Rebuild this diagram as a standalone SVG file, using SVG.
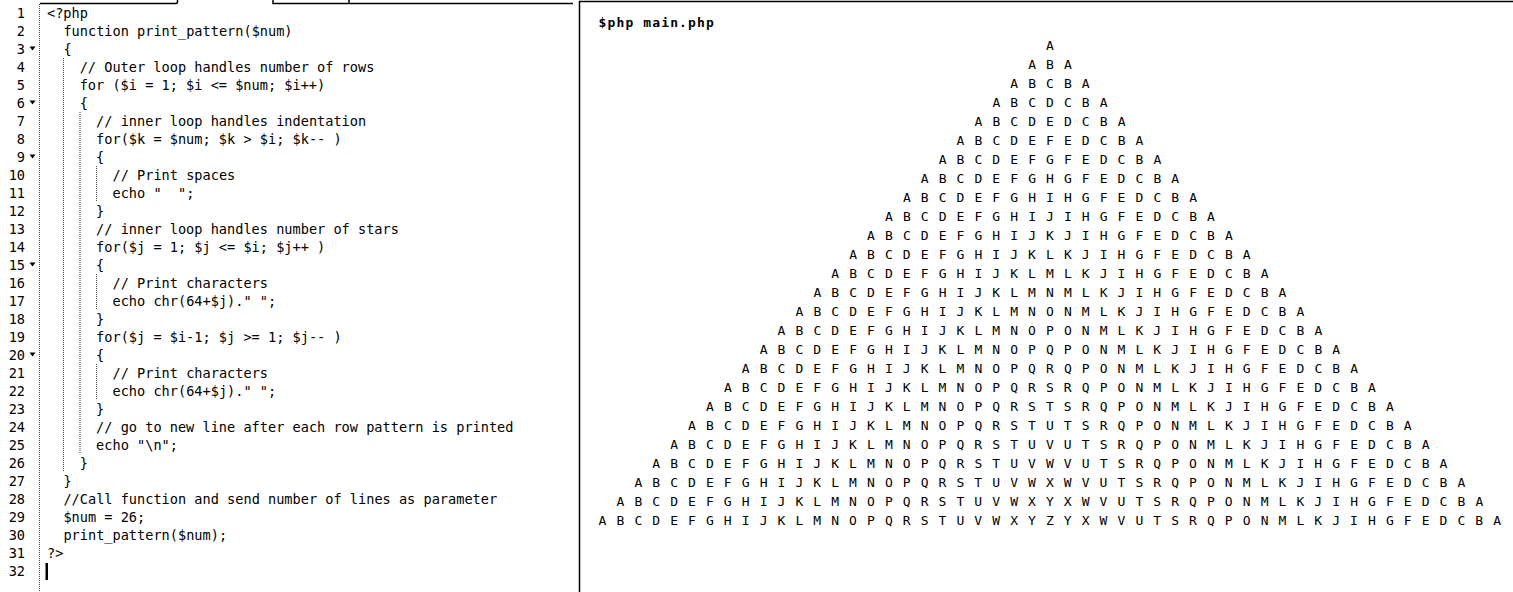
<svg xmlns="http://www.w3.org/2000/svg" width="1513" height="592" viewBox="0 0 1513 592">
<style>
.code{font-family:"DejaVu Sans Mono","Liberation Mono",monospace;font-size:13.6px;fill:#000;white-space:pre}
.ln{font-family:"DejaVu Sans Mono","Liberation Mono",monospace;font-size:13.6px;fill:#000;text-anchor:end}
.out{font-family:"DejaVu Sans Mono","Liberation Mono",monospace;font-size:13px;letter-spacing:1.12px;fill:#000}
.hdr{font-weight:bold}
.guide{stroke:#444;stroke-width:1;stroke-dasharray:1 1;fill:none}
.frame{stroke:#000;stroke-width:1.5;fill:none}
.fold{fill:#000}
</style>
<rect x="0" y="0" width="1513" height="592" fill="#fff"/>
<g id="frame">
<path class="frame" d="M40,3.5 H176 Q177.5,3.5 177.5,2 V0"/>
<path class="frame" d="M273,0 V3.5 H573"/>
<path class="frame" d="M349,0 V3.5"/>
<path class="frame" d="M579.5,592 V1.5 H1513"/>
</g>
<g id="gutter">
<line class="guide" x1="39.5" y1="4" x2="39.5" y2="592"/>
<text class="ln" x="25" y="17.5">1</text>
<text class="ln" x="25" y="35.5">2</text>
<text class="ln" x="25" y="53.5">3</text>
<text class="ln" x="25" y="71.5">4</text>
<text class="ln" x="25" y="89.5">5</text>
<text class="ln" x="25" y="107.5">6</text>
<text class="ln" x="25" y="125.5">7</text>
<text class="ln" x="25" y="143.5">8</text>
<text class="ln" x="25" y="161.5">9</text>
<text class="ln" x="25" y="179.5">10</text>
<text class="ln" x="25" y="197.5">11</text>
<text class="ln" x="25" y="215.5">12</text>
<text class="ln" x="25" y="233.5">13</text>
<text class="ln" x="25" y="251.5">14</text>
<text class="ln" x="25" y="269.5">15</text>
<text class="ln" x="25" y="287.5">16</text>
<text class="ln" x="25" y="305.5">17</text>
<text class="ln" x="25" y="323.5">18</text>
<text class="ln" x="25" y="341.5">19</text>
<text class="ln" x="25" y="359.5">20</text>
<text class="ln" x="25" y="377.5">21</text>
<text class="ln" x="25" y="395.5">22</text>
<text class="ln" x="25" y="413.5">23</text>
<text class="ln" x="25" y="431.5">24</text>
<text class="ln" x="25" y="449.5">25</text>
<text class="ln" x="25" y="467.5">26</text>
<text class="ln" x="25" y="485.5">27</text>
<text class="ln" x="25" y="503.5">28</text>
<text class="ln" x="25" y="521.5">29</text>
<text class="ln" x="25" y="539.5">30</text>
<text class="ln" x="25" y="557.5">31</text>
<text class="ln" x="25" y="575.5">32</text>
<polygon class="fold" points="29.5,46.5 35.5,46.5 32.5,50.5"/>
<polygon class="fold" points="29.5,100.5 35.5,100.5 32.5,104.5"/>
<polygon class="fold" points="29.5,154.5 35.5,154.5 32.5,158.5"/>
<polygon class="fold" points="29.5,262.5 35.5,262.5 32.5,266.5"/>
<polygon class="fold" points="29.5,352.5 35.5,352.5 32.5,356.5"/>
</g>
<g id="indent-guides">
<line class="guide" x1="63.5" y1="58" x2="63.5" y2="472"/>
<line class="guide" x1="80" y1="112" x2="80" y2="454"/>
<line class="guide" x1="96.5" y1="166" x2="96.5" y2="202"/>
<line class="guide" x1="96.5" y1="274" x2="96.5" y2="310"/>
<line class="guide" x1="96.5" y1="364" x2="96.5" y2="400"/>
</g>
<g id="code">
<text class="code" x="47" y="17.5">&lt;?php</text>
<text class="code" x="63.4" y="35.5">function print_pattern($num)</text>
<text class="code" x="63.4" y="53.5">{</text>
<text class="code" x="79.7" y="71.5">// Outer loop handles number of rows</text>
<text class="code" x="79.7" y="89.5">for ($i = 1; $i &lt;= $num; $i++)</text>
<text class="code" x="79.7" y="107.5">{</text>
<text class="code" x="96.1" y="125.5">// inner loop handles indentation</text>
<text class="code" x="96.1" y="143.5">for($k = $num; $k &gt; $i; $k-- )</text>
<text class="code" x="96.1" y="161.5">{</text>
<text class="code" x="112.5" y="179.5">// Print spaces</text>
<text class="code" x="112.5" y="197.5" xml:space="preserve">echo "  ";</text>
<text class="code" x="96.1" y="215.5">}</text>
<text class="code" x="96.1" y="233.5">// inner loop handles number of stars</text>
<text class="code" x="96.1" y="251.5">for($j = 1; $j &lt;= $i; $j++ )</text>
<text class="code" x="96.1" y="269.5">{</text>
<text class="code" x="112.5" y="287.5">// Print characters</text>
<text class="code" x="112.5" y="305.5">echo chr(64+$j)." ";</text>
<text class="code" x="96.1" y="323.5">}</text>
<text class="code" x="96.1" y="341.5">for($j = $i-1; $j &gt;= 1; $j-- )</text>
<text class="code" x="96.1" y="359.5">{</text>
<text class="code" x="112.5" y="377.5">// Print characters</text>
<text class="code" x="112.5" y="395.5">echo chr(64+$j)." ";</text>
<text class="code" x="96.1" y="413.5">}</text>
<text class="code" x="96.1" y="431.5">// go to new line after each row pattern is printed</text>
<text class="code" x="96.1" y="449.5">echo "\n";</text>
<text class="code" x="79.7" y="467.5">}</text>
<text class="code" x="63.4" y="485.5">}</text>
<text class="code" x="63.4" y="503.5">//Call function and send number of lines as parameter</text>
<text class="code" x="63.4" y="521.5">$num = 26;</text>
<text class="code" x="63.4" y="539.5">print_pattern($num);</text>
<text class="code" x="47" y="557.5">?&gt;</text>
<rect x="45.5" y="563" width="2.5" height="17" fill="#000"/>
</g>
<g id="output">
<text class="out hdr" x="598.6" y="27">$php main.php</text>
<text class="out" x="1046.1" y="49.5">A</text>
<text class="out" x="1028.2" y="68.5">A B A</text>
<text class="out" x="1010.3" y="87.5">A B C B A</text>
<text class="out" x="992.4" y="106.5">A B C D C B A</text>
<text class="out" x="974.5" y="125.5">A B C D E D C B A</text>
<text class="out" x="956.6" y="144.5">A B C D E F E D C B A</text>
<text class="out" x="938.7" y="163.5">A B C D E F G F E D C B A</text>
<text class="out" x="920.8" y="182.5">A B C D E F G H G F E D C B A</text>
<text class="out" x="902.9" y="201.5">A B C D E F G H I H G F E D C B A</text>
<text class="out" x="885.0" y="220.5">A B C D E F G H I J I H G F E D C B A</text>
<text class="out" x="867.1" y="239.5">A B C D E F G H I J K J I H G F E D C B A</text>
<text class="out" x="849.2" y="258.5">A B C D E F G H I J K L K J I H G F E D C B A</text>
<text class="out" x="831.3" y="277.5">A B C D E F G H I J K L M L K J I H G F E D C B A</text>
<text class="out" x="813.4" y="296.5">A B C D E F G H I J K L M N M L K J I H G F E D C B A</text>
<text class="out" x="795.5" y="315.5">A B C D E F G H I J K L M N O N M L K J I H G F E D C B A</text>
<text class="out" x="777.6" y="334.5">A B C D E F G H I J K L M N O P O N M L K J I H G F E D C B A</text>
<text class="out" x="759.7" y="353.5">A B C D E F G H I J K L M N O P Q P O N M L K J I H G F E D C B A</text>
<text class="out" x="741.8" y="372.5">A B C D E F G H I J K L M N O P Q R Q P O N M L K J I H G F E D C B A</text>
<text class="out" x="723.9" y="391.5">A B C D E F G H I J K L M N O P Q R S R Q P O N M L K J I H G F E D C B A</text>
<text class="out" x="706.0" y="410.5">A B C D E F G H I J K L M N O P Q R S T S R Q P O N M L K J I H G F E D C B A</text>
<text class="out" x="688.1" y="429.5">A B C D E F G H I J K L M N O P Q R S T U T S R Q P O N M L K J I H G F E D C B A</text>
<text class="out" x="670.2" y="448.5">A B C D E F G H I J K L M N O P Q R S T U V U T S R Q P O N M L K J I H G F E D C B A</text>
<text class="out" x="652.3" y="467.5">A B C D E F G H I J K L M N O P Q R S T U V W V U T S R Q P O N M L K J I H G F E D C B A</text>
<text class="out" x="634.4" y="486.5">A B C D E F G H I J K L M N O P Q R S T U V W X W V U T S R Q P O N M L K J I H G F E D C B A</text>
<text class="out" x="616.5" y="505.5">A B C D E F G H I J K L M N O P Q R S T U V W X Y X W V U T S R Q P O N M L K J I H G F E D C B A</text>
<text class="out" x="598.6" y="524.5">A B C D E F G H I J K L M N O P Q R S T U V W X Y Z Y X W V U T S R Q P O N M L K J I H G F E D C B A</text>
</g>
</svg>
